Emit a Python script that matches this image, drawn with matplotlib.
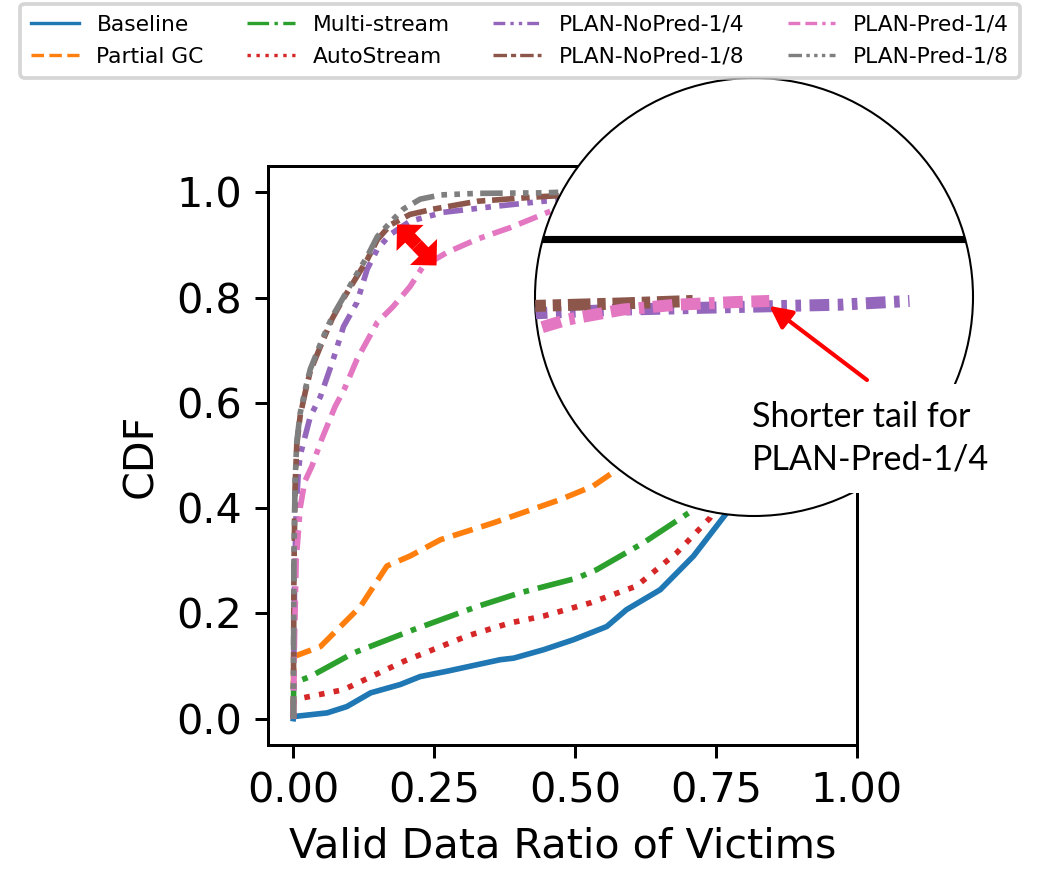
import numpy as np
import matplotlib
matplotlib.use('Agg')
import matplotlib.pyplot as plt
import matplotlib.patches as mpatches

# CDF of valid data ratio of GC victims
baseline_x = [0, 0.0006, 0.06, 0.095, 0.137, 0.19, 0.225, 0.272, 0.367, 0.391, 0.444, 0.497, 0.556,
              0.591, 0.651, 0.71, 0.769, 0.80, 0.84, 0.88, 0.91, 0.94]
baseline_c = [0, 0.004, 0.011, 0.023, 0.049, 0.065, 0.080, 0.090, 0.112, 0.115, 0.131, 0.150, 0.175,
              0.207, 0.245, 0.309, 0.391, 0.47, 0.63, 0.82, 0.95, 1.0]

partialgc_x = [0, 0.0006, 0.048, 0.119, 0.166, 0.207, 0.261, 0.355, 0.473, 0.532, 0.574,
               0.62, 0.68, 0.74, 0.79, 0.83, 0.86]
partialgc_c = [0, 0.118, 0.137, 0.213, 0.290, 0.309, 0.340, 0.372, 0.416, 0.442, 0.473,
               0.52, 0.60, 0.72, 0.86, 0.95, 1.0]

multistream_x = [0, 0.0006, 0.03, 0.107, 0.213, 0.326, 0.402, 0.503, 0.538, 0.621, 0.71,
                 0.75, 0.79, 0.83, 0.87, 0.90]
multistream_c = [0, 0.068, 0.080, 0.125, 0.169, 0.213, 0.239, 0.267, 0.283, 0.334, 0.397,
                 0.48, 0.62, 0.80, 0.94, 1.0]

autostream_x = [0, 0.0006, 0.089, 0.196, 0.308, 0.385, 0.444, 0.527, 0.609, 0.68, 0.739,
                0.77, 0.81, 0.85, 0.89, 0.92]
autostream_c = [0, 0.036, 0.055, 0.109, 0.157, 0.182, 0.195, 0.220, 0.252, 0.315, 0.381,
                0.45, 0.60, 0.78, 0.93, 1.0]

nopred4_x = [0, 0.002, 0.005, 0.009, 0.012, 0.03, 0.048, 0.069, 0.089, 0.113, 0.131, 0.149, 0.172,
             0.207, 0.266, 0.355, 0.443, 0.52, 0.60, 0.70, 0.80, 0.862]
nopred4_c = [0, 0.25, 0.40, 0.47, 0.50, 0.574, 0.612, 0.677, 0.745, 0.791, 0.854, 0.892, 0.92,
             0.945, 0.962, 0.973, 0.983, 0.99, 0.993, 0.995, 0.997, 1.0]

nopred8_x = [0, 0.001, 0.003, 0.006, 0.012, 0.021, 0.03, 0.051, 0.069, 0.087, 0.107, 0.131, 0.149,
             0.172, 0.207, 0.248, 0.326, 0.443, 0.52, 0.60, 0.664]
nopred8_c = [0, 0.28, 0.44, 0.52, 0.575, 0.62, 0.66, 0.715, 0.76, 0.795, 0.83, 0.872, 0.91,
             0.938, 0.958, 0.968, 0.983, 0.992, 0.996, 0.998, 1.0]

pred4_x = [0, 0.002, 0.005, 0.012, 0.02, 0.033, 0.05, 0.074, 0.09, 0.113, 0.149, 0.177, 0.207,
           0.23, 0.273, 0.326, 0.385, 0.456, 0.50, 0.52, 0.55, 0.60, 0.65, 0.70, 0.734]
pred4_c = [0, 0.15, 0.30, 0.40, 0.45, 0.48, 0.53, 0.593, 0.625, 0.683, 0.753, 0.783, 0.821,
           0.859, 0.886, 0.911, 0.933, 0.964, 0.974, 0.977, 0.985, 0.993, 0.997, 0.999, 1.0]

pred8_x = [0, 0.001, 0.003, 0.006, 0.012, 0.021, 0.03, 0.051, 0.069, 0.087, 0.107, 0.131, 0.149,
           0.172, 0.195, 0.225, 0.261, 0.326, 0.443, 0.47]
pred8_c = [0, 0.30, 0.45, 0.525, 0.58, 0.625, 0.664, 0.72, 0.764, 0.797, 0.835, 0.878, 0.916,
           0.943, 0.968, 0.987, 0.995, 0.998, 0.999, 1.0]

labels = ['Baseline', 'Partial GC', 'Multi-stream', 'AutoStream',
          'PLAN-NoPred-1/4', 'PLAN-NoPred-1/8', 'PLAN-Pred-1/4', 'PLAN-Pred-1/8']
xs = [baseline_x, partialgc_x, multistream_x, autostream_x, nopred4_x, nopred8_x, pred4_x, pred8_x]
cs = [baseline_c, partialgc_c, multistream_c, autostream_c, nopred4_c, nopred8_c, pred4_c, pred8_c]
colors = ['tab:blue', 'tab:orange', 'tab:green', 'tab:red',
          'tab:purple', 'tab:brown', 'tab:pink', 'tab:gray']
dashes = ['-', '--', '-.', ':',
          (3.5, 1.5, 1, 1.5, 1, 1.5), (4, 1.2, 1.5, 1.2),
          (3.5, 1.5, 3.5, 1.5, 1, 1.5), (4, 1.3, 1, 1.3, 1, 1.3, 1, 1.3)]


def style(d, k=1.0):
    if isinstance(d, str):
        return d
    return (0, tuple(v * k for v in d))


DPI = 270
fig = plt.figure(figsize=(1040 / DPI, 870 / DPI), dpi=DPI)
ax = fig.add_axes([0.2577, 0.1437, 0.5663, 0.6655])

for x, c, lab, col, d in zip(xs, cs, labels, colors, dashes):
    ax.plot(x, c, color=col, ls=style(d), lw=1.5, label=lab)

ax.set_xlim(-0.045, 1.0)
ax.set_ylim(-0.05, 1.05)
ax.set_xticks([0, 0.25, 0.5, 0.75, 1.0])
ax.set_yticks([0, 0.2, 0.4, 0.6, 0.8, 1.0])
ax.tick_params(labelsize=11)
ax.set_xlabel('Valid Data Ratio of Victims', fontsize=11)
ax.set_ylabel('CDF', fontsize=11)

# fat red double arrow between the 1/8 and Pred-1/4 curves
gap_a = (0.184, 0.939)
gap_b = (0.254, 0.861)
mid = ((gap_a[0] + gap_b[0]) / 2, (gap_a[1] + gap_b[1]) / 2)
for tip in (gap_a, gap_b):
    arr = mpatches.FancyArrowPatch(mid, tip, arrowstyle='simple,head_length=0.5,head_width=1.0,tail_width=0.36',
                                   mutation_scale=10, shrinkA=0, shrinkB=0,
                                   fc='#ff0000', ec='none', zorder=10)
    ax.add_patch(arr)

# legend on top of the figure
handles, labs = ax.get_legend_handles_labels()
leg = fig.legend(handles, labs, loc='upper center', bbox_to_anchor=(0.5, 1 - 4 / 870), ncol=4,
                 fontsize=5.8, handlelength=2.2, labelspacing=0.55, columnspacing=2.0,
                 borderpad=0.5, borderaxespad=0)
for ln in leg.get_lines():
    ln.set_linewidth(0.9)

# magnified circle on the tails of the PLAN curves
ax_in = fig.add_axes([535 / 1040, (870 - 516) / 870, 438 / 1040, 438 / 870])
ax_in.axis('off')
circle = mpatches.Circle((0.5, 0.5), 0.5, transform=ax_in.transAxes, fc='white', ec='black',
                         lw=0.55, clip_on=False, zorder=0)
ax_in.add_patch(circle)
ax_in.set_xlim(0.52, 0.92)
ax_in.set_ylim(0.8257, 1.1807)
ax_in.axhline(ax.get_ylim()[1], color='black', lw=1.9, clip_path=circle)
for i in range(4, 8):
    ax_in.plot(xs[i], cs[i], color=colors[i], ls=style(dashes[i], 0.47), lw=3.2, clip_path=circle)

ax_in.annotate('', xy=(pred4_x[-1], pred4_c[-1] - 0.004), xycoords='data',
               xytext=(867 / 1040, 1 - 380 / 870), textcoords='figure fraction',
               arrowprops=dict(arrowstyle='-|>,head_length=0.5,head_width=0.25', color='red',
                               lw=1.1, mutation_scale=10, shrinkA=0, shrinkB=0))

fig.text(752 / 1040, 1 - 401 / 870, 'Shorter tail for\nPLAN-Pred-1/4', fontsize=9.1, family='Lato',
         ha='left', va='top', linespacing=1.42,
         bbox=dict(fc='white', ec='none', pad=4.6))

fig.savefig('out.png', dpi=DPI)
